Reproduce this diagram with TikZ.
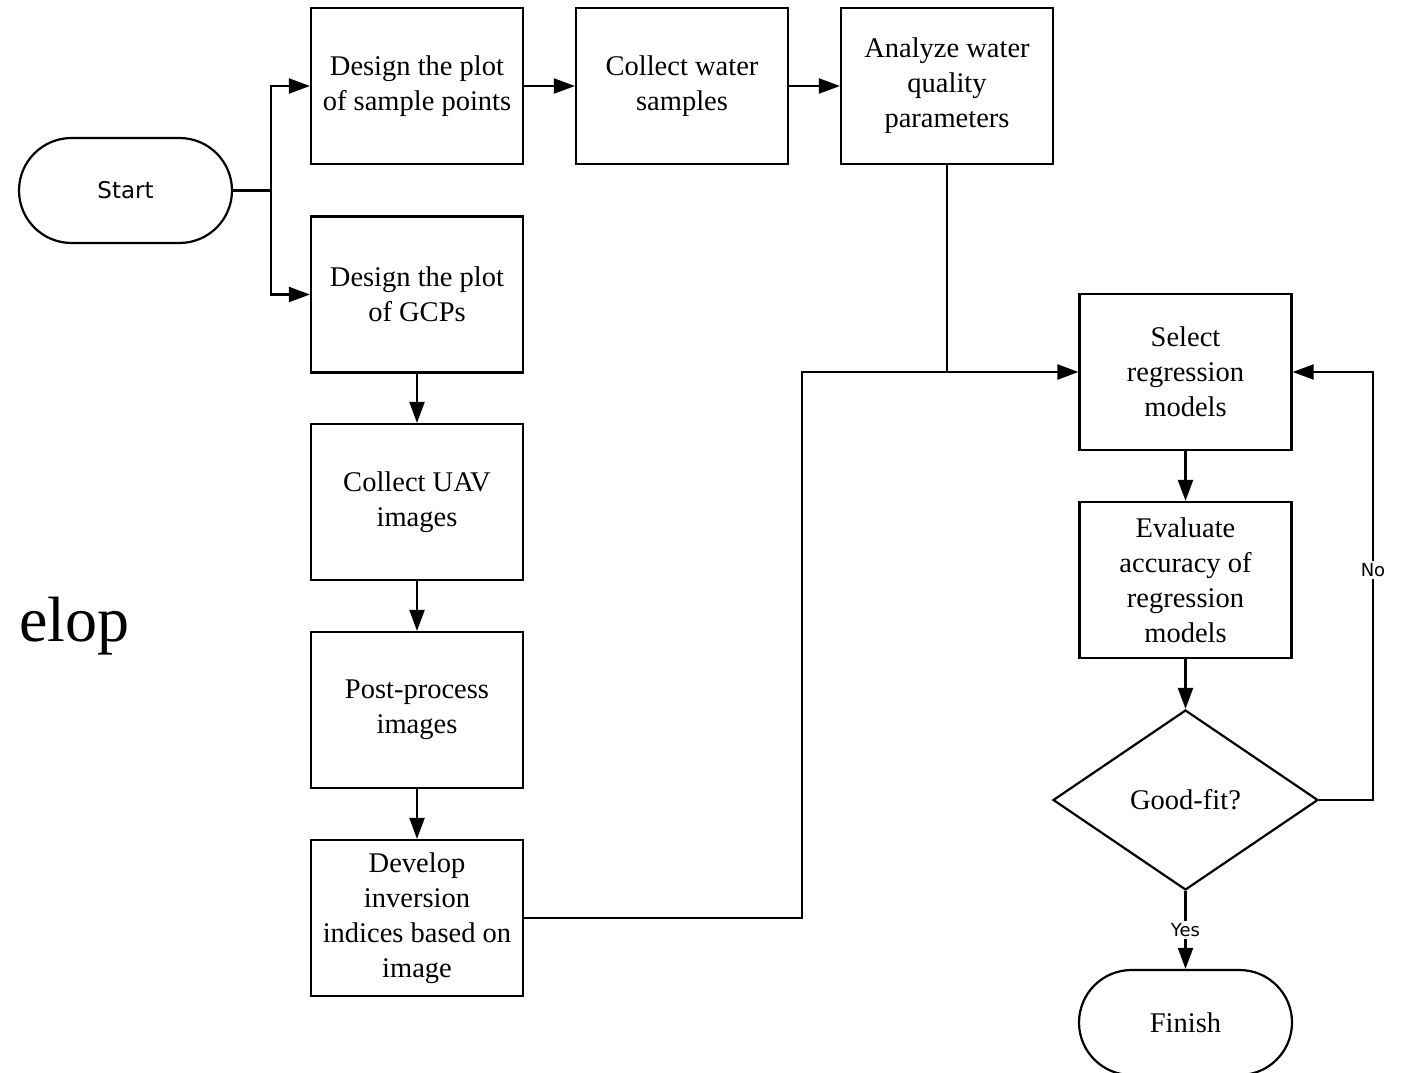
\documentclass[tikz,border=0pt]{standalone}
\usepackage{fontspec}
\setmainfont{Liberation Serif}
\newfontfamily\lblfont{DejaVu Sans}
\usetikzlibrary{shapes.geometric,shapes.misc,arrows.meta}
\begin{document}
\begin{tikzpicture}[x=1pt,y=-1pt,
 box/.style={draw,line width=2.2pt,minimum width=212pt,minimum height=156pt,align=center,font=\fontsize{28.5}{35}\selectfont,inner sep=0pt},
 term/.style={draw,line width=2.2pt,rounded rectangle,minimum width=213pt,minimum height=105pt,inner sep=0pt},
 dec/.style={draw,line width=2.2pt,diamond,aspect=1.47,minimum width=265pt,minimum height=180pt,inner sep=0pt,font=\fontsize{28.5}{35}\selectfont},
 conn/.style={line width=2.2pt},
 arr/.style={line width=2.2pt,-{Triangle[length=21pt,width=15pt]}},
 lbl/.style={fill=white,inner sep=2pt,font=\lblfont\fontsize{18}{20}\selectfont}
]
\useasboundingbox (0,0) rectangle (1403,1073);

\node[term,font=\lblfont\fontsize{23}{26}\selectfont] (start) at (125.5,190.5) {Start};
\node[box] (b1) at (417,86) {Design the plot\\of sample points};
\node[box] (b2) at (682,86) {Collect water\\samples};
\node[box] (b3) at (947,86) {Analyze water\\quality\\parameters};
\node[box] (b4) at (417,294.5) {Design the plot\\of GCPs};
\node[box] (b5) at (417,502) {Collect UAV\\images};
\node[box] (b6) at (417,710) {Post-process\\images};
\node[box] (b7) at (417,918) {Develop\\inversion\\indices based on\\image};
\node[box] (b8) at (1185.5,372) {Select\\regression\\models};
\node[box] (b9) at (1185.5,580) {Evaluate\\accuracy of\\regression\\models};
\node[dec] (dec) at (1185.5,800) {Good-fit?};
\node[term,font=\fontsize{28.5}{35}\selectfont] (fin) at (1185.5,1022.5) {Finish};

\node[anchor=base west,inner sep=0pt,font=\fontsize{64}{72}\selectfont] (frag) at (19,641) {elop};

\coordinate (j1) at (271,190.5);
\draw[conn] (start.east) -- (j1);
\draw[arr] (j1) |- (b1.west);
\draw[arr] (j1) |- (b4.west);
\draw[arr] (b1) -- (b2);
\draw[arr] (b2) -- (b3);
\draw[arr] (b4) -- (b5);
\draw[arr] (b5) -- (b6);
\draw[arr] (b6) -- (b7);

\coordinate (j2) at (947,372);
\coordinate (k) at (802,372);
\draw[conn] (b3.south) -- (j2);
\draw[arr] (b7.east) -| (k) -- (b8.west);

\draw[arr] (b8) -- (b9);
\draw[arr] (b9) -- (dec);

\coordinate (n) at (1373,372);
\draw[arr] (dec.east) -| (n) -- (b8.east);
\node[lbl] (nolbl) at (1373,570) {No};

\draw[arr] (dec.south) -- node[lbl] (yeslbl) {Yes} (fin.north);
\end{tikzpicture}
\end{document}
